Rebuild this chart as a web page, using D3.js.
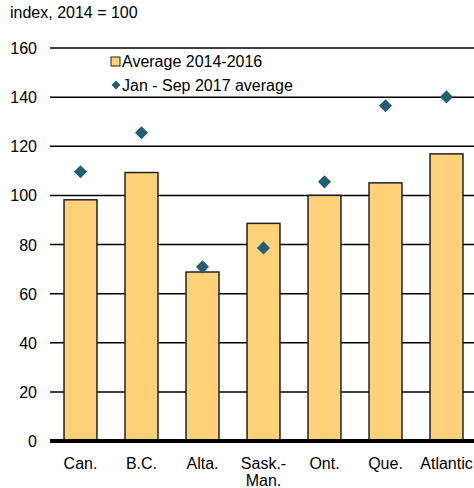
<!DOCTYPE html>
<html>
<head>
<meta charset="UTF-8">
<script src="https://d3js.org/d3.v7.min.js"></script>
<style>
  body { margin: 0; background: #fff; }
  text { font-family: "Liberation Sans", Arial, sans-serif; }
</style>
</head>
<body>
<div id="chart"></div>
<script>
// data
var categories = ["Can.", "B.C.", "Alta.", "Sask.-\nMan.", "Ont.", "Que.", "Atlantic"];
var avg1416 = [98.2, 109.3, 68.8, 88.6, 100, 105.1, 116.9];
var avg2017 = [109.6, 125.5, 70.9, 78.6, 105.5, 136.5, 140.1];
var yTicks = [0, 20, 40, 60, 80, 100, 120, 140, 160];

var width = 474, height = 488;
var margin = {top: 48, right: -3, bottom: 47, left: 50};

var svg = d3.select("#chart").append("svg")
  .attr("width", width)
  .attr("height", height);

var x = d3.scaleBand()
  .domain(categories)
  .range([margin.left, width - margin.right])
  .paddingInner(0.46)
  .paddingOuter(0.23);

var y = d3.scaleLinear()
  .domain([0, 160])
  .range([height - margin.bottom, margin.top]);

// unit label
svg.append("text")
  .attr("x", 10).attr("y", 18)
  .attr("font-size", 16)
  .text("index, 2014 = 100");

// gridlines
svg.selectAll(".grid")
  .data(yTicks.filter(function(d){ return d > 0; }))
  .enter().append("line")
    .attr("x1", margin.left).attr("x2", width)
    .attr("y1", function(d){ return y(d); })
    .attr("y2", function(d){ return y(d); })
    .attr("stroke", "#000")
    .attr("stroke-width", 1.5);

// y tick labels
svg.selectAll(".ytick")
  .data(yTicks)
  .enter().append("text")
    .attr("x", 37)
    .attr("y", function(d){ return y(d) + 6; })
    .attr("text-anchor", "end")
    .attr("font-size", 16)
    .text(function(d){ return d; });

// bars
svg.selectAll(".bar")
  .data(avg1416)
  .enter().append("rect")
    .attr("x", function(d, i){ return x(categories[i]); })
    .attr("y", function(d){ return y(d); })
    .attr("width", x.bandwidth())
    .attr("height", function(d){ return y(0) - y(d); })
    .attr("fill", "#FFD27A")
    .attr("stroke", "#222")
    .attr("stroke-width", 1.5);

// zero line
svg.append("line")
  .attr("x1", margin.left).attr("x2", width)
  .attr("y1", y(0)).attr("y2", y(0))
  .attr("stroke", "#000")
  .attr("stroke-width", 4);

// diamonds
var diamond = d3.symbol().type(d3.symbolDiamond2).size(110);
svg.selectAll(".pt")
  .data(avg2017)
  .enter().append("path")
    .attr("d", diamond)
    .attr("transform", function(d, i){
      return "translate(" + (x(categories[i]) + x.bandwidth() / 2) + "," + y(d) + ")";
    })
    .attr("fill", "#245E75");

// category labels
var cat = svg.selectAll(".cat")
  .data(categories)
  .enter().append("text")
    .attr("text-anchor", "middle")
    .attr("font-size", 16)
    .attr("transform", function(d){
      return "translate(" + (x(d) + x.bandwidth() / 2) + "," + (y(0) + 28) + ")";
    });
cat.selectAll("tspan")
  .data(function(d){ return d.split("\n"); })
  .enter().append("tspan")
    .attr("x", 0)
    .attr("dy", function(d, i){ return i ? 17 : 0; })
    .text(function(d){ return d; });

// legend
var lg = svg.append("g").attr("transform", "translate(111,0)");
lg.append("rect")
  .attr("x", 0).attr("y", 57)
  .attr("width", 9).attr("height", 9)
  .attr("fill", "#FFD27A")
  .attr("stroke", "#222")
  .attr("stroke-width", 1);
lg.append("text")
  .attr("x", 11).attr("y", 67)
  .attr("font-size", 16)
  .text("Average 2014-2016");
lg.append("path")
  .attr("d", d3.symbol().type(d3.symbolDiamond2).size(50))
  .attr("transform", "translate(5,85)")
  .attr("fill", "#245E75");
lg.append("text")
  .attr("x", 11).attr("y", 91)
  .attr("font-size", 16)
  .text("Jan - Sep 2017 average");
</script>
</body>
</html>
